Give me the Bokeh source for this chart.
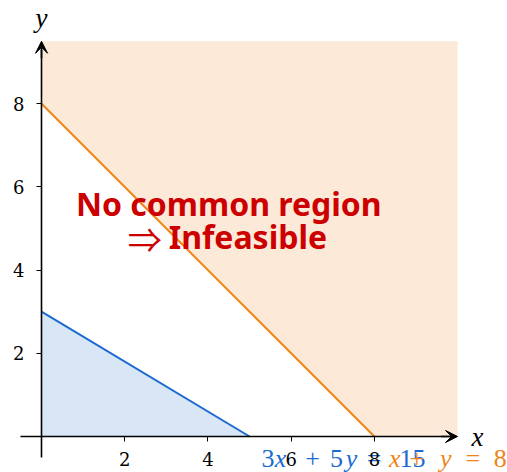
from bokeh.plotting import figure
from bokeh.models import LinearAxis, FixedTicker, Arrow, VeeHead, ColumnDataSource
from bokeh.core.properties import value
from bokeh.embed import file_html
from bokeh.resources import INLINE

# data
x_max = 10.0
y_max = 9.5
ticks = [2, 4, 6, 8]
# constraint 1: 3x + 5y <= 15
c1_a, c1_b, c1_r = 3, 5, 15
c1_parts = ["3", "x", "+", "5", "y", "=", "15"]
c1_styles = ["normal", "italic", "normal", "normal", "italic", "normal", "normal"]
# constraint 2: x + y >= 8
c2_a, c2_b, c2_r = 1, 1, 8
c2_parts = ["x", "+", "y", "=", "8"]
c2_styles = ["italic", "normal", "italic", "normal", "normal"]

blue = "#1a6ad2"
blue_fill = "#d8e6f5"
orange = "#ef8518"
orange_fill = "#fce9d8"
red = "#cc0000"
serif = "Liberation Serif"

p = figure(width=507, height=472, x_range=(-0.986, 11.2), y_range=(-0.865, 10.48),
           output_backend="svg", toolbar_location=None,
           x_axis_location=None, y_axis_location=None, min_border=0)
p.grid.visible = False
p.outline_line_color = None

x1 = c1_r / c1_a; y1 = c1_r / c1_b
x2 = c2_r / c2_a; y2 = c2_r / c2_b
p.patch([0, x2, x_max, x_max, 0], [y2, 0, 0, y_max, y_max], fill_color=orange_fill, line_color=None)
p.patch([0, x1, 0], [0, 0, y1], fill_color=blue_fill, line_color=None)
p.line([0, x1], [y1, 0], line_color=blue, line_width=2)
p.line([0, x2], [y2, 0], line_color=orange, line_width=2)

# axes through origin
for side in ("below", "left"):
    ax = LinearAxis(fixed_location=0, ticker=FixedTicker(ticks=ticks),
                    major_tick_out=5, major_tick_in=0, minor_tick_out=0, minor_tick_in=0,
                    axis_line_width=1.6, axis_line_color="black",
                    major_tick_line_color="black",
                    major_label_text_font="DejaVu Serif",
                    major_label_text_font_size="18px",
                    major_label_text_color="black",
                    major_label_standoff=10 if side == "below" else 12)
    ax.bounds = (-0.5, (x_max if side == "below" else y_max) - 0.2)
    p.add_layout(ax, side)

p.add_layout(Arrow(end=VeeHead(size=12, fill_color="black", line_color="black"),
                   x_start=9.6, y_start=0, x_end=x_max, y_end=0, line_width=1.6))
p.add_layout(Arrow(end=VeeHead(size=12, fill_color="black", line_color="black"),
                   x_start=0, y_start=y_max - 0.4, x_end=0, y_end=y_max, line_width=1.6))

p.text(x=[x_max + 0.48], y=[0], text=["x"], text_font=value(serif), text_font_style="italic",
       text_font_size="27px", text_align="center", text_baseline="middle", text_color="black")
p.text(x=[0], y=[10.05], text=["y"], text_font=value(serif), text_font_style="italic",
       text_font_size="27px", text_align="center", text_baseline="middle", text_color="black")

# equation labels, typeset piece by piece
c1_src = ColumnDataSource(dict(x=[x1 + 0.3] * len(c1_parts), y=[-0.52] * len(c1_parts),
                               text=c1_parts, style=c1_styles,
                               dx=[6, 18.5, 50.5, 74.5, 89.5, 112, 150.5]))
p.text(x="x", y="y", text="text", x_offset="dx", source=c1_src, text_font=value(serif),
       text_font_style="style", text_font_size="26px", text_align="center",
       text_baseline="middle", text_color=blue)
c2_src = ColumnDataSource(dict(x=[x2 + 0.3] * len(c2_parts), y=[-0.52] * len(c2_parts),
                               text=c2_parts, style=c2_styles,
                               dx=[8, 30, 59, 86, 113.5]))
p.text(x="x", y="y", text="text", x_offset="dx", source=c2_src, text_font=value(serif),
       text_font_style="style", text_font_size="26px", text_align="center",
       text_baseline="middle", text_color=orange)

p.text(x=[4.5], y=[5.6], text=["No common region"],
       text_font=value("Noto Sans"), text_font_style="bold", text_font_size="32px",
       text_align="center", text_baseline="middle", text_color=red)
p.text(x=[2.48], y=[4.75], text=["⇒"],
       text_font=value("Noto Sans CJK SC"), text_font_size="34px",
       text_align="center", text_baseline="middle", text_color=red)
p.text(x=[4.96], y=[4.8], text=["Infeasible"],
       text_font=value("Noto Sans"), text_font_style="bold", text_font_size="32px",
       text_align="center", text_baseline="middle", text_color=red)

open("out.html", "w").write(file_html(p, INLINE))
